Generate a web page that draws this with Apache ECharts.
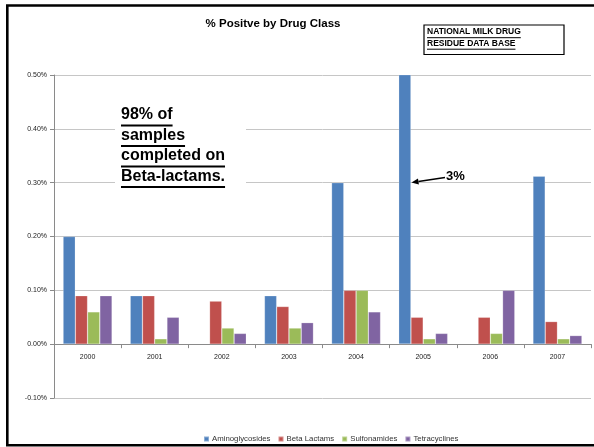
<!DOCTYPE html>
<html>
<head>
<meta charset="utf-8">
<script src="https://cdn.jsdelivr.net/npm/echarts@6/dist/echarts.min.js"></script>
<style>
  html, body { margin: 0; padding: 0; background: #fff; overflow: hidden; }
  #chart { width: 594px; height: 447px; }
</style>
</head>
<body>
<div id="chart"></div>
<script>
// Years on the category axis
const years = ['2000', '2001', '2002', '2003', '2004', '2005', '2006', '2007'];

// Percent of samples positive, per drug class (null = no positives reported)
const aminoglycosides = [0.20, 0.09, null, 0.09, 0.30, 3, null, 0.312];
const betaLactams     = [0.09, 0.09, 0.08, 0.07, 0.10, 0.05, 0.05, 0.042];
const sulfonamides    = [0.06, 0.01, 0.03, 0.03, 0.10, 0.01, 0.02, 0.01];
const tetracyclines   = [0.09, 0.05, 0.02, 0.04, 0.06, 0.02, 0.10, 0.016];

// Value axis range and step (percent)
const yMin = -0.10, yMax = 0.50, yStep = 0.10;

const noteLines = ['98% of', 'samples', 'completed on', 'Beta-lactams.'];
const calloutText = '3%';

const colors = ['#4F81BD', '#C0504D', '#9BBB59', '#8064A2'];
const baseFont = 'Liberation Sans, Arial, sans-serif';

// Plot box
const gridTop = 75, gridBottom = 49, chartH = 447;
const plotH = chartH - gridTop - gridBottom;
// Category axis sits on the zero line: lift it from the plot bottom
const zeroLift = plotH * (0 - yMin) / (yMax - yMin);

const chart = echarts.init(document.getElementById('chart'), null, { renderer: 'canvas' });

function bar(name, data) {
  return {
    name: name,
    type: 'bar',
    data: data,
    barGap: '0%',
    barCategoryGap: '27%',
    clip: true,
    itemStyle: { borderColor: 'rgba(255,255,255,0.35)', borderWidth: 0.6 }
  };
}

// Text width helper for the underlined texts
const measureCtx = document.createElement('canvas').getContext('2d');
function textWidth(str, font) {
  measureCtx.font = font;
  return measureCtx.measureText(str).width;
}

const noteFont = 'bold 16px ' + baseFont;
const noteX = 121, noteBase0 = 123, noteStep = 20.5;
const noteGraphics = [{
  type: 'rect', shape: { x: 115, y: 100, width: 131, height: 92 },
  style: { fill: '#fff' }, z: 10
}];
noteLines.forEach(function (line, i) {
  const base = noteBase0 + i * noteStep;
  noteGraphics.push({
    type: 'text', x: noteX, y: base, z: 11,
    style: { text: line, font: noteFont, fill: '#000', verticalAlign: 'bottom' }
  });
  noteGraphics.push({
    type: 'line', z: 11,
    shape: { x1: noteX, y1: base + 2.5, x2: noteX + textWidth(line, noteFont), y2: base + 2.5 },
    style: { stroke: '#000', lineWidth: 2 }
  });
});

const boxFont = 'bold 8.5px ' + baseFont;
const boxLines = ['NATIONAL MILK DRUG', 'RESIDUE DATA BASE'];
const boxGraphics = [{
  type: 'rect', shape: { x: 424, y: 25, width: 140, height: 29.5 },
  style: { fill: '#fff', stroke: '#000', lineWidth: 1.2 }, z: 10
}];
boxLines.forEach(function (line, i) {
  const base = 36.5 + i * 11.5;
  boxGraphics.push({
    type: 'text', x: 427, y: base, z: 11,
    style: { text: line, font: boxFont, fill: '#000', verticalAlign: 'bottom' }
  });
  boxGraphics.push({
    type: 'line', z: 11,
    shape: { x1: 427, y1: base + 1.2, x2: 427 + textWidth(line, boxFont), y2: base + 1.2 },
    style: { stroke: '#000', lineWidth: 1 }
  });
});

// Callout arrow pointing at the clipped 2005 bar
const arrowTail = [445, 177.5], arrowTip = [411.5, 182.5];
const ang = Math.atan2(arrowTip[1] - arrowTail[1], arrowTip[0] - arrowTail[0]);
const headLen = 7, headHalf = 3;
const hx = arrowTip[0] - headLen * Math.cos(ang), hy = arrowTip[1] - headLen * Math.sin(ang);
const calloutGraphics = [
  {
    type: 'line', z: 12,
    shape: { x1: arrowTail[0], y1: arrowTail[1], x2: hx, y2: hy },
    style: { stroke: '#000', lineWidth: 1.6 }
  },
  {
    type: 'polygon', z: 12,
    shape: { points: [
      arrowTip,
      [hx + headHalf * Math.sin(ang), hy - headHalf * Math.cos(ang)],
      [hx - headHalf * Math.sin(ang), hy + headHalf * Math.cos(ang)]
    ] },
    style: { fill: '#000' }
  },
  {
    type: 'text', x: 446, y: 176.5, z: 12,
    style: { text: calloutText, font: 'bold 13px ' + baseFont, fill: '#000', verticalAlign: 'middle' }
  }
];

// Outer frame: top, left and bottom edges (the right edge runs off the page)
const frame = {
  type: 'polyline', z: 20,
  shape: { points: [[600, 5.5], [7.3, 5.5], [7.3, 445.3], [600, 445.3]] },
  style: { fill: 'none', stroke: '#000', lineWidth: 2.6 }
};

chart.setOption({
  animation: false,
  backgroundColor: '#fff',
  color: colors,
  title: {
    text: '% Positve by Drug Class',
    left: 268, top: 13, textAlign: 'center',
    textStyle: { fontFamily: baseFont, fontSize: 11.5, fontWeight: 'bold', color: '#000' }
  },
  legend: {
    data: ['Aminoglycosides', 'Beta Lactams', 'Sulfonamides', 'Tetracyclines'],
    left: 198, top: 430,
    icon: 'rect', itemWidth: 5, itemHeight: 5, itemGap: 7,
    textStyle: { fontFamily: baseFont, fontSize: 7.8, color: '#333', padding: [0, 0, 0, -2] }
  },
  grid: { left: 54, right: 3, top: gridTop, bottom: gridBottom, containLabel: false },
  xAxis: {
    type: 'category',
    data: years,
    offset: -zeroLift,
    axisLine: { onZero: false, lineStyle: { color: '#8a8a8a', width: 1 } },
    axisTick: { show: true, alignWithLabel: false, length: 4, lineStyle: { color: '#8a8a8a' } },
    axisLabel: { fontFamily: baseFont, fontSize: 7, color: '#222', margin: 9 },
    splitLine: { show: false }
  },
  yAxis: {
    type: 'value',
    min: yMin, max: yMax, interval: yStep,
    axisLine: { show: true, lineStyle: { color: '#8a8a8a', width: 1 } },
    axisTick: { show: true, length: 4, lineStyle: { color: '#8a8a8a' } },
    axisLabel: {
      fontFamily: baseFont, fontSize: 7, color: '#222', margin: 7,
      formatter: function (v) { return v.toFixed(2) + '%'; }
    },
    splitLine: { show: true, lineStyle: { color: '#c6c6c6', width: 1 } }
  },
  series: [
    bar('Aminoglycosides', aminoglycosides),
    bar('Beta Lactams', betaLactams),
    bar('Sulfonamides', sulfonamides),
    bar('Tetracyclines', tetracyclines)
  ],
  graphic: { elements: noteGraphics.concat(boxGraphics, calloutGraphics, [frame]) }
});
</script>
</body>
</html>
